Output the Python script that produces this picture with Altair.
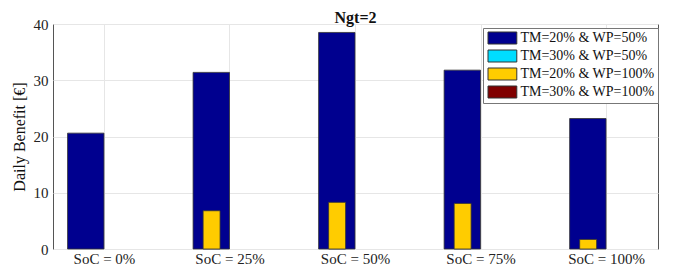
import json
import altair as alt
import pandas as pd

categories = ["SoC = 0%", "SoC = 25%", "SoC = 50%", "SoC = 75%", "SoC = 100%"]
series_names = ["TM=20% & WP=50%", "TM=30% & WP=50%", "TM=20% & WP=100%", "TM=30% & WP=100%"]
series_colors = ["#00008F", "#00DDFF", "#FFCC00", "#800000"]

tm20_wp50 = [20.6, 31.4, 38.5, 31.8, 23.2]
tm30_wp50 = [0, 0, 0, 0, 0]
tm20_wp100 = [0, 6.8, 8.3, 8.1, 1.7]
tm30_wp100 = [0, 0, 0, 0, 0]

values = [tm20_wp50, tm30_wp50, tm20_wp100, tm30_wp100]
rows = []
for name, vals in zip(series_names, values):
    for i, v in enumerate(vals):
        rows.append({"cat": i + 1, "series": name, "value": v})
df = pd.DataFrame(rows)

S = [json.dumps(s) for s in series_names]
lo_expr = (f"datum.cat + (datum.series == {S[0]} ? -0.29 : datum.series == {S[1]} ? 0 : "
           f"datum.series == {S[2]} ? -0.21 : 0.075)")
hi_expr = (f"datum.cat + (datum.series == {S[0]} ? 0 : datum.series == {S[1]} ? 0.29 : "
           f"datum.series == {S[2]} ? -0.075 : 0.21)")

label_expr = json.dumps(categories) + "[datum.value - 1]"
serif = "Liberation Serif"

chart = alt.Chart(df).transform_filter(
    "datum.value > 0"
).transform_calculate(
    lo=lo_expr, hi=hi_expr
).mark_bar(stroke="#333333", strokeWidth=0.8).encode(
    x=alt.X("lo:Q",
            scale=alt.Scale(domain=[0.594, 5.414], nice=False, zero=False),
            axis=alt.Axis(values=[1, 2, 3, 4, 5], labelExpr=label_expr, title=None,
                          labelFont=serif, labelFontSize=15, labelColor="#222",
                          labelPadding=2, grid=True, gridColor="#e6e6e6",
                          ticks=False, domain=False)),
    x2="hi:Q",
    y=alt.Y("value:Q",
            scale=alt.Scale(domain=[0, 40], nice=False),
            axis=alt.Axis(values=[0, 10, 20, 30, 40], title="Daily Benefit [€]",
                          titleFont=serif, titleFontSize=16, titleFontWeight="normal",
                          titleColor="#111", titlePadding=6,
                          labelFont=serif, labelFontSize=15, labelColor="#222",
                          labelPadding=5, grid=True, gridColor="#e6e6e6",
                          ticks=False, domain=False)),
    y2=alt.datum(0),
    color=alt.Color("series:N",
                    scale=alt.Scale(domain=series_names, range=series_colors),
                    legend=alt.Legend(title=None, orient="none", legendX=430, legendY=4,
                                      symbolType="M-2.4,-1L2.4,-1L2.4,1L-2.4,1Z",
                                      symbolSize=144, symbolStrokeColor="#333",
                                      symbolStrokeWidth=1, symbolOpacity=1,
                                      symbolOffset=9.4,
                                      labelFont=serif, labelFontSize=14, labelColor="#111",
                                      labelOffset=11, rowPadding=2, padding=3,
                                      strokeColor="#777", fillColor="white")),
).properties(
    width=605, height=225,
    title=alt.TitleParams("Ngt=2", font=serif, fontSize=16, fontWeight="bold",
                          color="#111", anchor="middle", offset=3, dy=12),
    padding={"left": 45, "top": 16, "right": 5, "bottom": 17},
    autosize=alt.AutoSizeParams(type="none"),
).configure_view(stroke="#555555", strokeWidth=1)

chart.save("out.html", embed_options={"renderer": "svg", "actions": False})
